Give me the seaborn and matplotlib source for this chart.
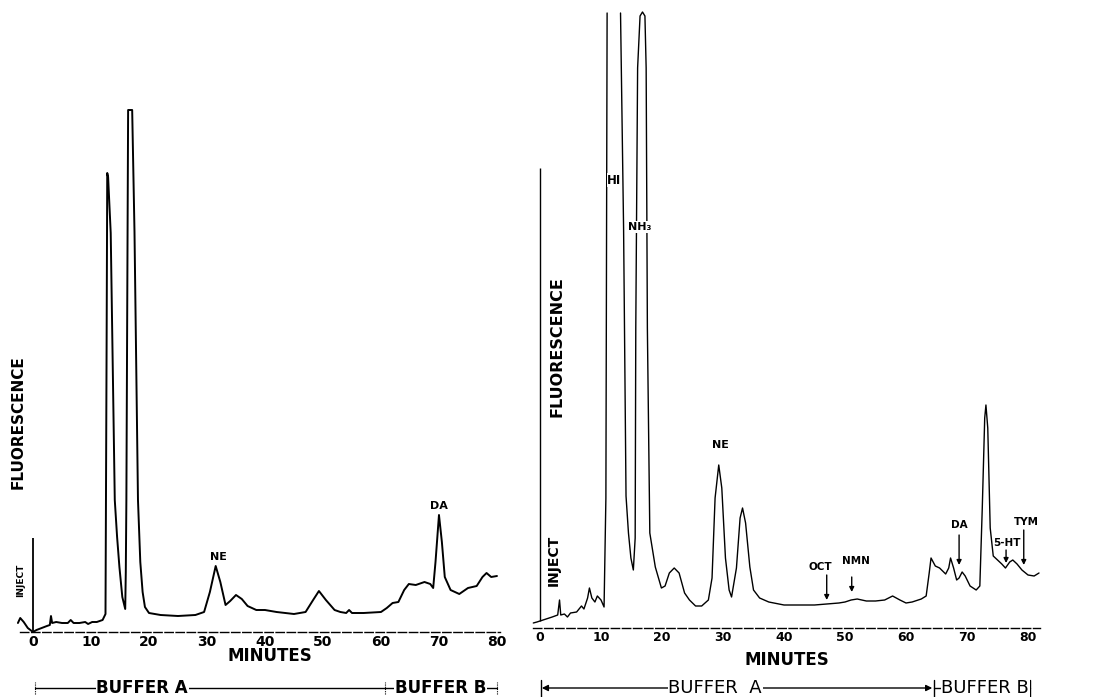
# Amine fluorescence chromatograms: standard mixture (left) vs sample run (right)
import seaborn as sns
import matplotlib.pyplot as plt
import pandas as pd

sns.set_style("white")
plt.rcParams['font.family'] = ['DejaVu Sans']
plt.rcParams['text.color'] = 'black'
plt.rcParams['xtick.color'] = 'black'
plt.rcParams['xtick.labelcolor'] = 'black'
plt.rcParams['axes.edgecolor'] = 'black'

# ---- data (minutes, fluorescence in arbitrary units) ----
TICKS = [0, 10, 20, 30, 40, 50, 60, 70, 80]

LEFT_MIN = [-2.6, -2.2, -1.6, -0.9, 0.0, 0.6, 1.5, 2.4, 2.9, 3.1, 3.3, 4.0, 5.0, 6.0, 6.5,
            7.0, 8.0, 9.0, 9.5, 10.2, 11.0, 12.0, 12.5, 12.7, 12.8, 12.95, 13.4, 14.1, 14.5,
            14.9, 15.4, 15.9, 16.0, 16.1, 16.4, 17.1, 17.5, 18.1, 18.5, 18.9, 19.3, 20.0,
            22.0, 25.0, 28.0, 29.5, 30.5, 31.5, 32.3, 33.2, 34.0, 35.0, 36.0, 37.0, 38.5,
            40.0, 42.0, 45.0, 47.0, 48.3, 49.3, 50.5, 52.0, 53.0, 54.0, 54.5, 55.0, 57.0,
            60.0, 61.0, 62.0, 63.0, 64.0, 64.8, 66.0, 67.5, 68.5, 69.0, 69.4, 70.0, 70.5,
            71.0, 72.0, 73.5, 75.0, 76.5, 77.5, 78.2, 79.0, 80.0]
LEFT_FLUOR = [9, 14, 10, 4, 0, 2, 4, 6, 7, 16, 9, 10, 9, 9, 12,
              9, 9, 10, 8, 10, 10, 12, 18, 300, 459, 455, 399, 132, 95,
              65, 35, 23, 60, 132, 522, 522, 400, 132, 70, 40, 25, 19,
              17, 16, 17, 20, 40, 66, 50, 27, 31, 37, 33, 26, 22,
              22, 20, 18, 20, 32, 41, 32, 22, 20, 19, 22, 19, 19,
              20, 24, 29, 30, 42, 48, 47, 50, 48, 44, 70, 117, 90,
              55, 42, 38, 44, 46, 55, 59, 55, 56]

# right trace is split where the HI peak runs off the top of the chart paper
RIGHT_MIN = [-1.1, -0.5, 0.0, 1.0, 2.0, 2.9, 3.2, 3.4, 4.0, 4.5, 5.0, 6.0, 6.8, 7.2, 7.8,
             8.1, 8.5, 9.0, 9.4, 10.0, 10.5, 10.8, 11.0,
             13.2, 13.7, 14.1, 14.5, 14.9, 15.3, 15.6, 15.7, 16.0, 16.4, 16.8, 17.2, 17.4,
             17.6, 18.0, 18.9, 19.9, 20.5, 21.2, 22.0, 22.8, 23.7, 24.5, 25.5, 26.5, 27.6,
             28.2, 28.7, 29.3, 29.8, 30.4, 31.0, 31.4, 32.2, 32.8, 33.2, 33.7, 34.4, 35.0,
             36.0, 37.5, 40.0, 42.0, 45.0, 47.0, 49.0, 50.0, 51.0, 52.0, 53.5, 55.0, 56.5,
             57.8, 59.0, 60.0, 61.0, 62.5, 63.3, 63.8, 64.1, 64.8, 65.5, 66.5, 67.0, 67.3,
             67.8, 68.3, 68.7, 69.2, 69.7, 70.5, 71.5, 72.1, 72.5, 72.9, 73.1, 73.4, 73.8,
             74.3, 75.0, 75.7, 76.3, 77.0, 77.5, 78.2, 79.0, 80.0, 81.0, 81.8]
RIGHT_FLUOR = [5, 6, 7, 9, 11, 13, 28, 13, 14, 11, 15, 16, 22, 19, 30,
               40, 30, 26, 32, 28, 21, 130, 615,
               615, 400, 132, 95, 70, 58, 90, 300, 560, 612, 616, 612, 560,
               300, 95, 61, 40, 42, 55, 60, 55, 35, 28, 22, 22, 28,
               50, 130, 163, 140, 70, 38, 31, 60, 110, 120, 105, 61, 38,
               30, 26, 23, 23, 23, 24, 25, 26, 28, 29, 27, 27, 28,
               32, 28, 25, 26, 29, 32, 55, 70, 62, 60, 54, 60, 70,
               60, 48, 50, 56, 52, 42, 38, 42, 120, 210, 223, 200, 100,
               72, 68, 64, 60, 66, 68, 64, 58, 53, 52, 55]
RIGHT_PIECE = [0] * 23 + [1] * (len(RIGHT_MIN) - 23)

INJECT_MIN = 0
LEFT_INJECT_TOP = 94
RIGHT_INJECT_TOP = 460

# peaks flagged with an arrow on the sample run: name, retention time
ARROW_NAMES = ['OCT', 'NMN', 'DA', '5-HT', 'TYM']
ARROW_MIN = [47.0, 51.1, 68.7, 76.4, 79.3]

left_df = pd.DataFrame({'Minutes': LEFT_MIN, 'Fluorescence': LEFT_FLUOR})
right_df = pd.DataFrame({'Minutes': RIGHT_MIN, 'Fluorescence': RIGHT_FLUOR,
                         'Piece': RIGHT_PIECE})

# ---- figure: two panels laid out on the 1113 x 697 px page ----
fig = plt.figure(figsize=(11.13, 6.97), dpi=100)
ax_l = fig.add_axes([0, 0, 520 / 1113, 1])
ax_r = fig.add_axes([520 / 1113, 0, 593 / 1113, 1])

sns.lineplot(data=left_df, x='Minutes', y='Fluorescence', color='black',
             linewidth=1.4, sort=False, estimator=None, ax=ax_l)
sns.lineplot(data=right_df, x='Minutes', y='Fluorescence', units='Piece',
             color='black', linewidth=1.0, sort=False, estimator=None, ax=ax_r)

ax_l.vlines(INJECT_MIN, 0, LEFT_INJECT_TOP, color='black', linewidth=1.3)
ax_r.vlines(INJECT_MIN, 7, RIGHT_INJECT_TOP, color='black', linewidth=1.0)

ax_l.set_xlim(-5.69, 83.97)
ax_l.set_ylim(-65, 632)
ax_r.set_xlim(-3.28, 93.93)
ax_r.set_ylim(-69, 628)

# axes: only a dashed time axis at the baseline
for ax, lo, hi, size, pad in [(ax_l, -2.2, 80.5, 10, 2), (ax_r, -1.1, 82.0, 9, 2)]:
    for side in ['left', 'right', 'top']:
        ax.spines[side].set_visible(False)
    ax.spines['bottom'].set_position(('data', 0))
    ax.spines['bottom'].set_bounds(lo, hi)
    ax.spines['bottom'].set_linestyle((0, (6, 2)))
    ax.spines['bottom'].set_linewidth(1.0)
    ax.spines['bottom'].set_color('black')
    ax.set_xticks(TICKS)
    ax.set_xticklabels([str(t) for t in TICKS], fontsize=size, fontweight='bold',
                       color='black')
    ax.tick_params(axis='x', length=0, pad=pad)
    ax.set_yticks([])
    ax.set_xlabel('')
    ax.set_ylabel('')
    ax.patch.set_alpha(0)

# ---- left panel text ----
ax_l.text(40.9, -24, 'MINUTES', ha='center', va='center', fontsize=12, fontweight='bold')
ax_l.text(-2.5, 210, 'FLUORESCENCE', rotation=90, ha='center', va='center',
          fontsize=11, fontweight='bold')
ax_l.text(-2.1, 52, 'INJECT', rotation=90, ha='center', va='center',
          fontsize=6.5, fontweight='bold')
ax_l.text(31.9, 75, 'NE', ha='center', va='center', fontsize=8, fontweight='bold')
ax_l.text(70.0, 126, 'DA', ha='center', va='center', fontsize=8, fontweight='bold')

# buffer bar (left)
ax_l.plot([0.4, 80], [-56, -56], color='black', linewidth=1.0)
for m in [0.4, 60.7, 80]:
    ax_l.plot([m, m], [-62, -50], color='black', linewidth=0.8, linestyle=(0, (1, 1)))
wb = dict(facecolor='white', edgecolor='none', pad=0.5)
ax_l.text(18.8, -56, 'BUFFER A', ha='center', va='center', fontsize=12,
          fontweight='bold', bbox=wb)
ax_l.text(70.3, -56, 'BUFFER B', ha='center', va='center', fontsize=12,
          fontweight='bold', bbox=wb)

# ---- right panel text ----
ax_r.text(40.5, -32, 'MINUTES', ha='center', va='center', fontsize=12, fontweight='bold')
ax_r.text(2.8, 281, 'FLUORESCENCE', rotation=90, ha='center', va='center',
          fontsize=11.5, fontweight='bold')
ax_r.text(2.3, 68, 'INJECT', rotation=90, ha='center', va='center',
          fontsize=10, fontweight='bold')
ax_r.text(12.2, 448, 'HI', ha='center', va='center', fontsize=8.5, fontweight='bold', bbox=wb)
ax_r.text(16.4, 401, 'NH₃', ha='center', va='center', fontsize=8, fontweight='bold', bbox=wb)
ax_r.text(29.5, 183, 'NE', ha='center', va='center', fontsize=8, fontweight='bold')

arrow_top = [53, 51, 93, 78, 98]
arrow_tip = [28, 36, 63, 65, 63]
text_pos = [(45.9, 61), (51.8, 67), (68.7, 103), (76.6, 85), (79.8, 106)]
for name, m, top, tip, (tx, ty) in zip(ARROW_NAMES, ARROW_MIN, arrow_top, arrow_tip, text_pos):
    ax_r.annotate('', xy=(m, tip), xytext=(m, top),
                  arrowprops=dict(arrowstyle='-|>', color='black', lw=1.0,
                                  mutation_scale=7, shrinkA=0, shrinkB=0))
    ax_r.text(tx, ty, name, ha='center', va='center', fontsize=7.5, fontweight='bold')

# buffer bar (right) with arrow heads
ax_r.annotate('', xy=(0.3, -60), xytext=(28.7, -60),
              arrowprops=dict(arrowstyle='-|>', color='black', lw=1.0,
                              mutation_scale=9, shrinkA=0, shrinkB=0))
ax_r.annotate('', xy=(64.3, -60), xytext=(28.7, -60),
              arrowprops=dict(arrowstyle='-|>', color='black', lw=1.0,
                              mutation_scale=9, shrinkA=0, shrinkB=0))
ax_r.plot([64.6, 80.3], [-60, -60], color='black', linewidth=1.0)
for m in [0.1, 64.6, 80.4]:
    ax_r.plot([m, m], [-69, -52], color='black', linewidth=1.0)
ax_r.text(28.7, -60, 'BUFFER  A', ha='center', va='center', fontsize=13, bbox=wb)
ax_r.text(73.0, -60, 'BUFFER B', ha='center', va='center', fontsize=13, bbox=wb)

fig.savefig('out.png', dpi=100, facecolor='white')
print("saved out.png")
